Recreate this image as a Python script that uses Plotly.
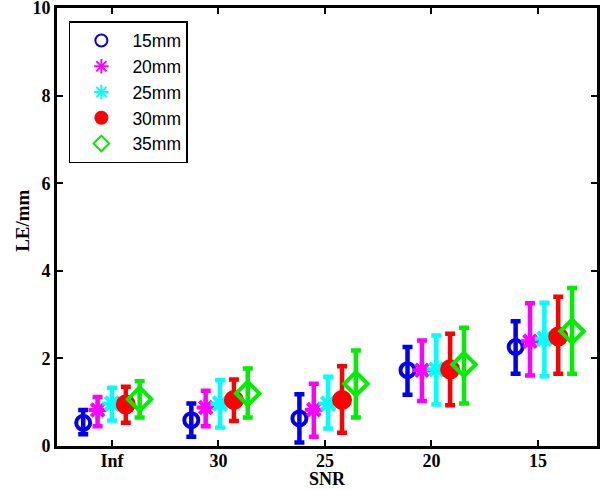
import plotly.graph_objects as go

snr_labels = ["Inf", "30", "25", "20", "15"]
group_x = [1.0, 2.015, 3.03, 4.045, 5.06]
series_names = ["15mm", "20mm", "25mm", "30mm", "35mm"]
series_offsets = [-0.27, -0.135, 0.0, 0.13, 0.26]

# mean, upper end of error bar, lower end of error bar
mean_15 = [0.53, 0.59, 0.63, 1.73, 2.26]
hi_15 = [0.82, 0.97, 1.18, 2.26, 2.85]
lo_15 = [0.27, 0.21, 0.08, 1.17, 1.65]

mean_20 = [0.82, 0.88, 0.83, 1.73, 2.39]
hi_20 = [1.12, 1.26, 1.42, 2.41, 3.26]
lo_20 = [0.45, 0.45, 0.21, 1.03, 1.61]

mean_25 = [0.97, 0.97, 0.97, 1.75, 2.45]
hi_25 = [1.33, 1.50, 1.58, 2.52, 3.27]
lo_25 = [0.58, 0.42, 0.40, 0.95, 1.59]

mean_30 = [0.95, 1.05, 1.05, 1.75, 2.50]
hi_30 = [1.35, 1.52, 1.82, 2.56, 3.41]
lo_30 = [0.53, 0.57, 0.30, 0.93, 1.65]

mean_35 = [1.07, 1.20, 1.42, 1.86, 2.62]
hi_35 = [1.48, 1.77, 2.18, 2.70, 3.61]
lo_35 = [0.65, 0.65, 0.65, 0.97, 1.65]

means = [mean_15, mean_20, mean_25, mean_30, mean_35]
his = [hi_15, hi_20, hi_25, hi_30, hi_35]
los = [lo_15, lo_20, lo_25, lo_30, lo_35]
colors = ["#0000ee", "#ff00ff", "#00ffff", "#ff0000", "#00ee00"]
symbols = ["circle-open", "asterisk-open", "asterisk-open", "circle", "diamond-open"]
sizes = [14, 15, 16, 16, 18]

fig = go.Figure()
for name, off, m, h, l, c, s, sz in zip(series_names, series_offsets, means, his, los,
                                        colors, symbols, sizes):
    xs = [g + off for g in group_x]
    fig.add_trace(go.Scatter(
        x=xs, y=m, mode="markers", name=name,
        marker=dict(symbol=s, color=c, size=sz, line=dict(color=c, width=4)),
        error_y=dict(type="data", symmetric=False,
                     array=[hh - mm for hh, mm in zip(h, m)],
                     arrayminus=[mm - ll for mm, ll in zip(m, l)],
                     color=c, thickness=4.5, width=5),
    ))

serif = "Liberation Serif"
fig.update_layout(
    width=600, height=490,
    margin=dict(l=57, r=3, t=8, b=44),
    paper_bgcolor="white", plot_bgcolor="white",
    showlegend=True,
    legend=dict(x=0.022, y=0.97, xanchor="left", yanchor="top",
                bgcolor="white", bordercolor="black", borderwidth=1.5,
                font=dict(family="Liberation Sans", size=17.5, color="black"),
                tracegroupgap=0, itemsizing="constant", itemwidth=52),
    xaxis=dict(range=[0.484, 5.554], tickmode="array", tickvals=[1, 2, 3, 4, 5],
               ticktext=snr_labels, ticks="inside", ticklen=6, tickwidth=1.5,
               tickcolor="black", showline=True, linecolor="black", linewidth=3,
               mirror="ticks", showgrid=False, zeroline=False, automargin=False,
               ticklabeloverflow="allow", ticklabelstandoff=-4,
               tickfont=dict(family=serif, size=18, color="black", weight="bold")),
    yaxis=dict(range=[0, 10], tickmode="array", tickvals=[0, 2, 4, 6, 8, 10],
               ticks="inside", ticklen=6, tickwidth=1.5, tickcolor="black",
               showline=True, linecolor="black", linewidth=3, mirror="ticks",
               showgrid=False, zeroline=False, automargin=False,
               ticklabeloverflow="allow",
               tickfont=dict(family=serif, size=18, color="black", weight="bold")),
    annotations=[
        dict(text="<b>SNR</b>", xref="paper", yref="paper", x=0.5, y=-0.075,
             xanchor="center", yanchor="middle", showarrow=False,
             font=dict(family=serif, size=18, color="black")),
        dict(text="<b>LE/mm</b>", xref="paper", yref="paper", x=-0.063, y=0.514,
             xanchor="center", yanchor="middle", showarrow=False, textangle=-90,
             font=dict(family=serif, size=19, color="black")),
    ],
)

fig.write_html("out.html", config={"displayModeBar": False},
               post_script="document.body.style.margin='0';document.body.style.overflow='hidden';")
